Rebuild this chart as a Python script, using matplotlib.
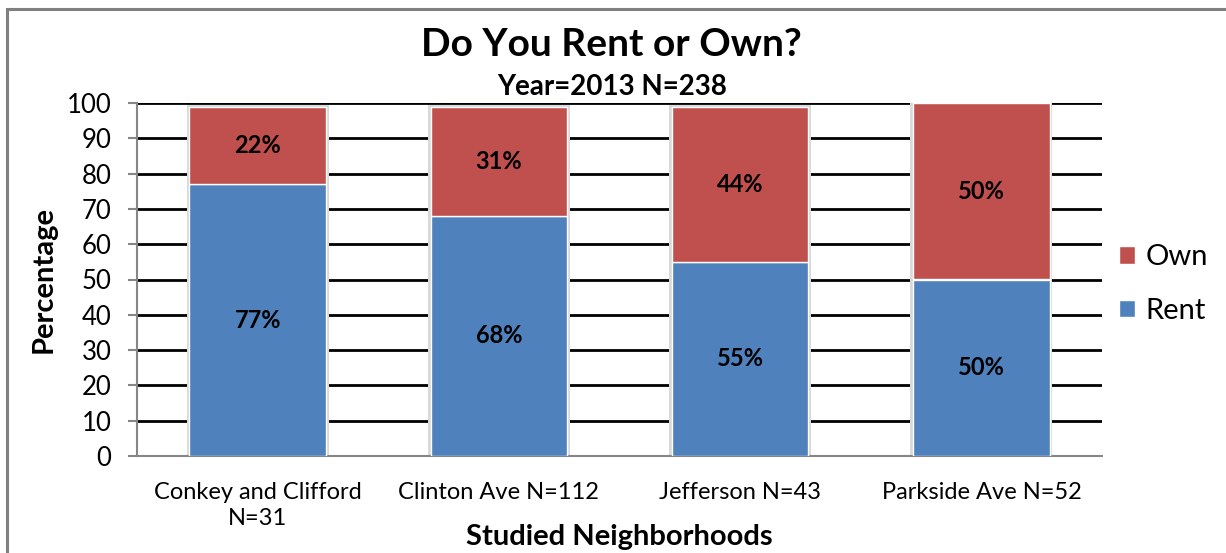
import numpy as np
import matplotlib.pyplot as plt
from matplotlib.patches import Rectangle

plt.rcParams['font.family'] = ['Lato', 'DejaVu Sans']

# данные по районам
neighborhoods = ['Conkey and Clifford\nN=31', 'Clinton Ave N=112', 'Jefferson N=43', 'Parkside Ave N=52']
rent = [77, 68, 55, 50]
own = [22, 31, 44, 50]

rent_color = '#4f81bd'
own_color = '#c0504d'

fig = plt.figure(figsize=(12.26, 5.53), dpi=100)
ax = fig.add_axes([137 / 1226, 1 - 456 / 553, 965 / 1226, 353 / 553])

x = np.arange(len(neighborhoods))
width = 0.565

# лёгкая тень под столбцами
for i in range(len(x)):
    total = rent[i] + own[i]
    ax.add_patch(Rectangle((x[i] - width / 2 - 0.012, 0), width + 0.024, total + 0.4,
                           color='#d9d9d9', zorder=2, lw=0))

ax.bar(x, rent, width, color=rent_color, edgecolor='white', linewidth=1, label='Rent', zorder=3)
ax.bar(x, own, width, bottom=rent, color=own_color, edgecolor='white', linewidth=1, label='Own', zorder=3)

for i in range(len(x)):
    ax.text(x[i], rent[i] / 2, f'{rent[i]}%', ha='center', va='center',
            fontsize=17, fontweight='bold', zorder=4)
    ax.text(x[i], rent[i] + own[i] / 2, f'{own[i]}%', ha='center', va='center',
            fontsize=17, fontweight='bold', zorder=4)

ax.set_xlim(-0.5, len(x) - 0.5)
ax.set_ylim(0, 100)
ax.set_yticks(range(0, 101, 10))
ax.set_xticks(x)
ax.set_xticklabels(neighborhoods, fontsize=17, linespacing=1.3)
ax.tick_params(axis='y', labelsize=18.5, length=6.5, color='#868686', width=1.5, pad=12)
ax.tick_params(axis='x', length=0, pad=19)
ax.yaxis.grid(True, color='black', linewidth=2)
ax.set_axisbelow(True)
for s in ['top', 'right']:
    ax.spines[s].set_visible(False)
for s in ['left', 'bottom']:
    ax.spines[s].set_color('#868686')
    ax.spines[s].set_linewidth(1.5)

ax.set_ylabel('Percentage', fontsize=21, fontweight='bold', va='center')
ax.yaxis.set_label_coords(-0.097, 0.5)
ax.set_xlabel('Studied Neighborhoods', fontsize=21, fontweight='bold', va='center')
ax.xaxis.set_label_coords(0.5, -0.2295)

fig.text(611 / 1226, 1 - 45 / 553, 'Do You Rent or Own?', ha='center', va='center',
         fontsize=28, fontweight='bold')
fig.text(612 / 1226, 1 - 87 / 553, 'Year=2013 N=238', ha='center', va='center',
         fontsize=20, fontweight='bold')

handles, labels = ax.get_legend_handles_labels()
fig.legend(handles[::-1], labels[::-1], loc='center left', bbox_to_anchor=(1093 / 1226, 1 - 284 / 553),
           frameon=False, fontsize=21, handlelength=0.55, handleheight=0.55, handletextpad=0.35,
           labelspacing=0.95)

# рамка диаграммы
fig.add_artist(Rectangle((7 / 1226, -0.05), 1.2, 1 - 9 / 553 + 0.05, transform=fig.transFigure,
                         fill=False, edgecolor='#808080', linewidth=2.2))

fig.savefig('out.png', dpi=100)
